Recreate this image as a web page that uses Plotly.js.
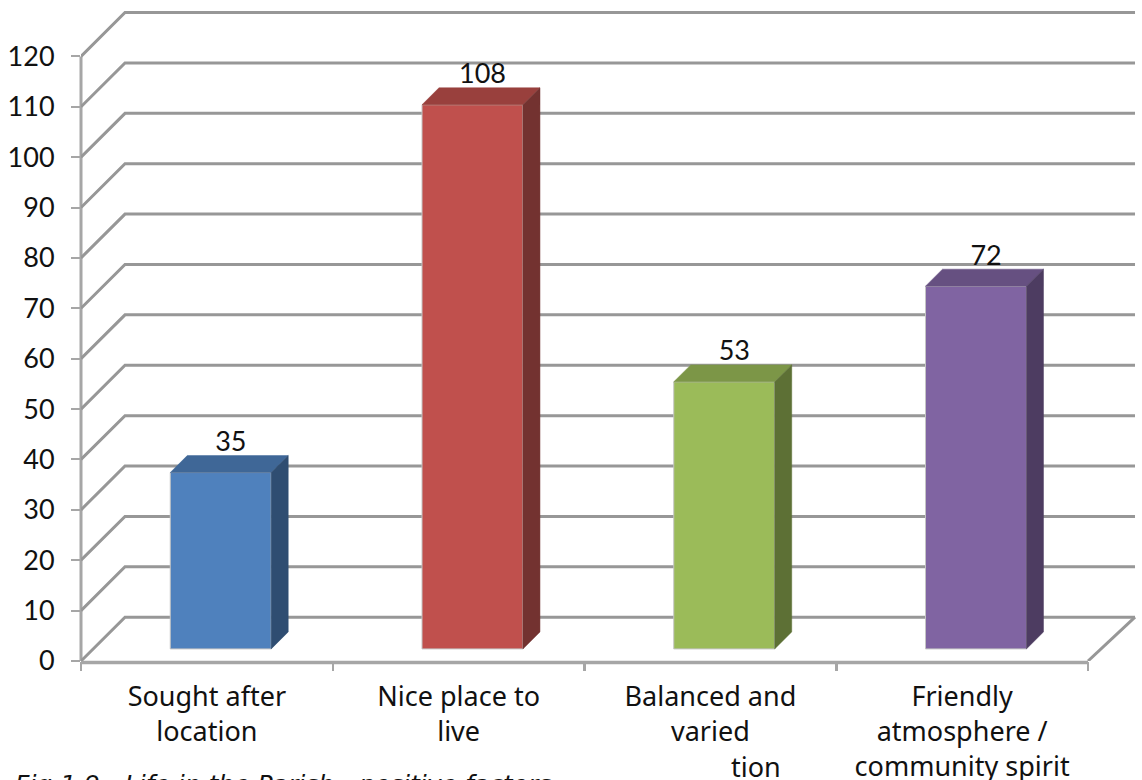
<!DOCTYPE html>
<html>
<head>
<meta charset="utf-8">
<script src="https://cdn.plot.ly/plotly-3.0.1.min.js"></script>
<style>html,body{margin:0;padding:0;background:#fff;overflow:hidden}</style>
</head>
<body>
<div id="chart" style="width:1142px;height:780px"></div>
<script>
// Survey counts per positive factor
var categories = ['Sought after<br>location', 'Nice place to<br>live', 'Balanced and<br>varied', 'Friendly<br>atmosphere /<br>community spirit'];
var labelPositions = [0, 1, 2, 3];
var values = [35, 108, 53, 72];
var frontColors = ['#4f81bd', '#c0504d', '#9bbb59', '#8064a2'];
var topColors = ['#3f6797', '#99403d', '#7c9647', '#665081'];
var sideColors = ['#2f4d71', '#733230', '#5d7035', '#4d3c61'];
var yTicks = [0, 10, 20, 30, 40, 50, 60, 70, 80, 90, 100, 110, 120];
var categoryEdges = [-0.5, 0.5, 1.5, 2.5, 3.5];

// Oblique depth of the 3D box, in axis units
var wallDx = 0.1748, wallDy = 8.7, floorDx = 0.1867;
var barW = 0.401, barOffset = 0.055;
var barDx = 0.0676, barDy = 3.37;
var barBase = 2.4;

var NUM_FONT = 'Lato, sans-serif';
var TEXT_FONT = '"Noto Sans", sans-serif';
var CAPTION_FONT = '"DejaVu Sans", sans-serif';
var gridGrey = '#979797', axisGrey = '#a6a6a6';
var traces = [];

// Gridlines sit under the bars: slanted run on the side wall, then across the back wall
var shapes = yTicks.map(function (v) {
  return {
    type: 'path', xref: 'x', yref: 'y', layer: 'below',
    path: 'M' + (-0.5) + ',' + v + ' L' + (-0.5 + wallDx) + ',' + (v + wallDy) + ' L' + (3.5 + floorDx) + ',' + (v + wallDy),
    line: {color: gridGrey, width: 3}
  };
});
shapes.push({
  type: 'line', xref: 'x', yref: 'y', layer: 'below',
  x0: 3.5, y0: 0, x1: 3.5 + floorDx, y1: wallDy,
  line: {color: gridGrey, width: 3}
});

// Front axis lines use paper offsets so they are not cut at the plot edge
shapes.push({
  type: 'line', xref: 'paper', yref: 'y', layer: 'below',
  x0: 0, x1: 0, y0: 0, y1: 120,
  line: {color: axisGrey, width: 3}
});
shapes.push({
  type: 'line', xref: 'x', yref: 'paper', layer: 'below',
  x0: -0.5, x1: 3.5, y0: -1.5 / 655.2, y1: -1.5 / 655.2,
  line: {color: axisGrey, width: 3.5}
});

function poly(xs, ys, color) {
  return {type: 'scatter', mode: 'lines', fill: 'toself', fillcolor: color, hoverinfo: 'skip', showlegend: false,
    x: xs, y: ys, line: {color: color, width: 0.5}};
}

// Front faces
traces.push({
  type: 'bar', x: values.map(function (v, i) { return i + barOffset; }), y: values, base: barBase,
  width: barW, marker: {color: frontColors, line: {color: '#c4c4c4', width: 1}},
  hoverinfo: 'skip', showlegend: false
});

// Top and side faces of each bar
values.forEach(function (v, i) {
  var l = i + barOffset - barW / 2, r = i + barOffset + barW / 2, t = v + barBase;
  traces.push(poly([l, r, r + barDx, l + barDx, l], [t, t, t + barDy, t + barDy, t], topColors[i]));
  traces.push(poly([r, r + barDx, r + barDx, r, r], [barBase, barBase + barDy, t + barDy, t, barBase], sideColors[i]));
});

// Value labels float above the back edge of each top face
traces.push({
  type: 'scatter', mode: 'text', hoverinfo: 'skip', showlegend: false, cliponaxis: false,
  x: values.map(function (v, i) { return i + barOffset + 0.04; }),
  y: values.map(function (v) { return v + barBase + 5.6; }),
  text: values.map(String), textposition: 'middle center',
  textfont: {family: NUM_FONT, size: 27, color: '#111'}
});

var layout = {
  width: 1142, height: 780,
  margin: {l: 81, r: 5, t: 5.8, b: 119, pad: 0},
  paper_bgcolor: '#fff', plot_bgcolor: '#fff',
  showlegend: false,
  bargap: 0,
  shapes: shapes,
  font: {family: TEXT_FONT, size: 27, color: '#111'},
  xaxis: {
    range: [-0.5, 3.6946], tickmode: 'array', tickvals: labelPositions, ticktext: categories,
    showgrid: false, zeroline: false, showline: false,
    ticks: '', ticklabelstandoff: 17, tickangle: 0, tickfont: {family: TEXT_FONT, size: 27, color: '#111'},
    minor: {tickmode: 'array', tickvals: categoryEdges, ticks: 'outside', ticklen: 9, tickwidth: 2.5, tickcolor: axisGrey, showgrid: false},
    automargin: false, fixedrange: true
  },
  yaxis: {
    range: [0, 130], tickmode: 'array', tickvals: yTicks, showgrid: false, zeroline: false,
    showline: false, ticks: 'outside', ticklen: 9, ticklabelstandoff: 11,
    tickcolor: axisGrey, tickwidth: 2, tickfont: {family: NUM_FONT, size: 27, color: '#111'},
    automargin: false, fixedrange: true
  },
  annotations: [
    {xref: 'paper', yref: 'paper', x: (13 - 81) / 1056, y: -124 / 655.2, xanchor: 'left', yanchor: 'middle', showarrow: false,
     text: '<i>Fig 1.9 - Life in the Parish - positive factors</i>',
     font: {family: CAPTION_FONT, size: 25, color: '#111'}},
    {xref: 'x', yref: 'paper', x: 2.18, y: -106 / 655.2, xanchor: 'center', yanchor: 'middle', showarrow: false,
     text: 'tion', font: {family: TEXT_FONT, size: 27, color: '#111'}}
  ]
};
Plotly.newPlot('chart', traces, layout, {displayModeBar: false, staticPlot: true});
</script>
</body>
</html>
